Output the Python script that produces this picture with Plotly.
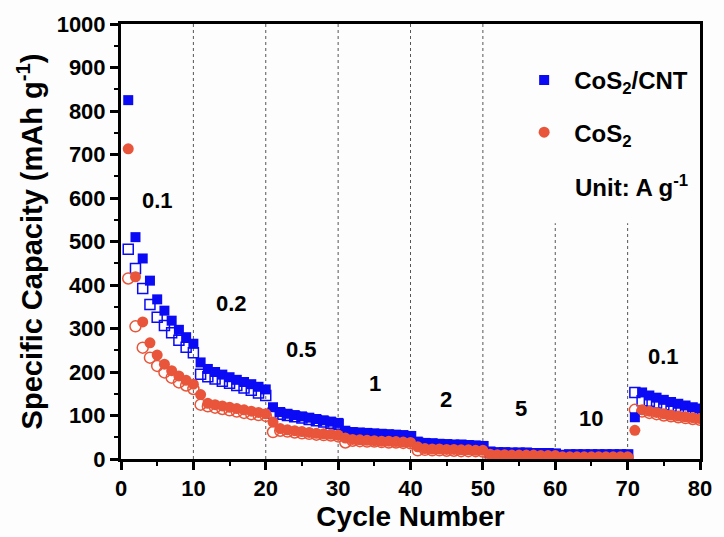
import plotly.graph_objects as go

cycles = list(range(1, 81))

cnt_discharge = [825, 510, 461, 410, 367, 341, 318, 297, 280, 265,
                 222, 207, 200, 194, 188, 182, 177, 172, 166, 160,
                 119, 108, 104, 101, 98, 95, 92, 89, 86, 83,
                 65, 62, 61, 60, 59, 58, 57, 56, 55, 53,
                 40, 37, 36, 35, 34, 33, 33, 32, 31, 30,
                 17, 15, 15, 14, 14, 14, 13, 13, 13, 12,
                 9, 10, 10, 10, 10, 10, 10, 10, 10, 10,
                 96, 153, 146, 141, 136, 131, 127, 123, 119, 116]
cnt_charge = [482, 438, 392, 355, 326, 307, 290, 273, 257, 244,
              195, 189, 184, 179, 174, 169, 163, 158, 152, 146,
              105, 103, 100, 97, 94, 91, 88, 85, 82, 80,
              60, 59, 58, 57, 56, 55, 54, 53, 52, 51,
              36, 35, 34, 33, 32, 31, 31, 30, 29, 28,
              15, 14, 14, 13, 13, 13, 12, 12, 12, 11,
              8, 9, 9, 9, 9, 9, 9, 9, 9, 9,
              153, 134, 133, 129, 125, 121, 118, 115, 112, 109]
cos2_discharge = [713, 419, 315, 267, 239, 218, 203, 191, 181, 172,
                  148, 128, 125, 122, 119, 116, 113, 110, 107, 104,
                  85, 70, 67, 65, 63, 61, 59, 58, 57, 55,
                  48, 45, 44, 43, 42, 41, 41, 40, 39, 38,
                  28, 24, 23, 23, 22, 22, 21, 21, 20, 20,
                  11, 10, 10, 9, 9, 9, 9, 8, 8, 8,
                  5, 5, 5, 5, 5, 5, 5, 5, 5, 5,
                  66, 113, 110, 107, 104, 101, 99, 97, 95, 93]
cos2_charge = [415, 305, 256, 233, 214, 199, 187, 176, 169, 161,
               125, 121, 118, 115, 112, 109, 106, 103, 101, 99,
               62, 65, 63, 61, 59, 58, 56, 55, 54, 52,
               38, 42, 41, 40, 40, 39, 38, 38, 37, 36,
               20, 21, 20, 20, 19, 19, 18, 18, 18, 17,
               8, 8, 8, 7, 7, 7, 7, 7, 7, 7,
               4, 4, 4, 4, 4, 4, 4, 4, 4, 4,
               113, 109, 106, 103, 100, 98, 96, 94, 92, 90]

x_tick_vals = [0, 10, 20, 30, 40, 50, 60, 70, 80]
y_tick_vals = [0, 100, 200, 300, 400, 500, 600, 700, 800, 900, 1000]
x_tick_text = ["<b>%d</b>" % v for v in x_tick_vals]
y_tick_text = ["<b>%d</b>" % v for v in y_tick_vals]

rate_labels = ["0.1", "0.2", "0.5", "1", "2", "5", "10", "0.1"]
rate_label_x = [5.0, 15.3, 24.9, 35.1, 44.9, 55.2, 64.9, 74.9]
rate_label_y = [595, 358, 251, 174, 136, 117, 94, 235]
divider_x = [10, 20, 30, 40, 50, 60, 70]
divider_top = [1000, 1000, 1000, 1000, 1000, 542, 542]

BLUE = "#0A0AF5"
RED = "#E8553A"
FONT = "Liberation Sans, Arial, sans-serif"

fig = go.Figure()
fig.add_trace(go.Scatter(x=cycles, y=cnt_charge, mode="markers", showlegend=False,
                         marker=dict(symbol="square-open", size=10, color=BLUE,
                                     line=dict(width=1.5, color=BLUE))))
fig.add_trace(go.Scatter(x=cycles, y=cos2_charge, mode="markers", showlegend=False,
                         marker=dict(symbol="circle-open", size=11, color=RED,
                                     line=dict(width=1.5, color=RED))))
fig.add_trace(go.Scatter(x=cycles, y=cnt_discharge, mode="markers",
                         name="<b>CoS<sub>2</sub>/CNT</b>", legendgroup="a",
                         marker=dict(symbol="square", size=10, color=BLUE)))
fig.add_trace(go.Scatter(x=cycles, y=cos2_discharge, mode="markers",
                         name="<b>CoS<sub>2</sub></b>", legendgroup="b",
                         marker=dict(symbol="circle", size=11, color=RED)))

for xv, top in zip(divider_x, divider_top):
    fig.add_shape(type="line", x0=xv, x1=xv, y0=0, y1=top, xref="x", yref="y",
                  line=dict(color="#555555", width=1, dash="dot"), layer="below")

for t, xv, yv in zip(rate_labels, rate_label_x, rate_label_y):
    fig.add_annotation(x=xv, y=yv, text="<b>" + t + "</b>", showarrow=False,
                       font=dict(size=22, color="black", family=FONT))

fig.add_annotation(x=0.982, y=0.628, xref="paper", yref="paper", xanchor="right",
                   yanchor="middle",
                   text="<b>Unit: A g<sup>-1</sup></b>", showarrow=False,
                   font=dict(size=24, color="black", family=FONT))

fig.update_layout(
    width=724, height=537,
    margin=dict(l=121, r=17, t=24, b=78),
    paper_bgcolor="#FCFDFC", plot_bgcolor="#FCFDFC",
    font=dict(family=FONT, color="black"),
    legend=dict(x=0.679, y=0.922, xanchor="left", yanchor="top",
                font=dict(size=24, family=FONT), bgcolor="rgba(0,0,0,0)",
                tracegroupgap=18, itemsizing="trace", itemwidth=50),
    xaxis=dict(range=[0, 80], tickvals=x_tick_vals, ticktext=x_tick_text,
               ticks="outside", ticklen=8, tickwidth=2.5, tickcolor="black",
               minor=dict(ticks="outside", ticklen=4, tickwidth=2, dtick=5, tickcolor="black"),
               showline=True, linewidth=3, linecolor="black", mirror=True,
               showgrid=False, zeroline=False,
               tickfont=dict(size=22, family=FONT),
               title=dict(text="<b>Cycle Number</b>", font=dict(size=28, family=FONT), standoff=4)),
    yaxis=dict(range=[0, 1000], tickvals=y_tick_vals, ticktext=y_tick_text,
               ticks="outside", ticklen=8, tickwidth=2.5, tickcolor="black",
               minor=dict(ticks="outside", ticklen=4, tickwidth=2, dtick=50, tickcolor="black"),
               showline=True, linewidth=3, linecolor="black", mirror=True,
               showgrid=False, zeroline=False,
               tickfont=dict(size=22, family=FONT),
               title=dict(text="<b>Specific Capacity (mAh g<sup>-1</sup>)</b>",
                          font=dict(size=29, family=FONT), standoff=6)),
)

fig.write_html("out.html")
